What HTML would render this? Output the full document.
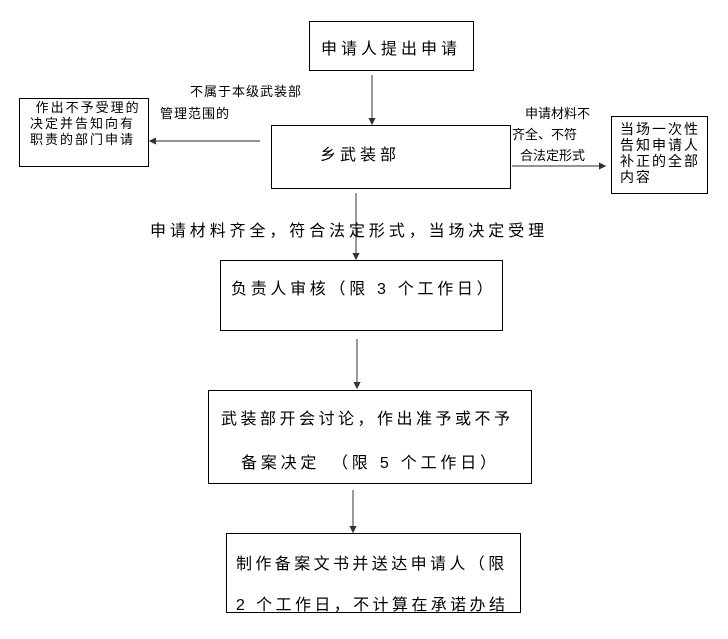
<!DOCTYPE html>
<html><head><meta charset="utf-8"><style>
body{margin:0;width:728px;height:639px;background:#fff;position:relative;font-family:"Liberation Sans","Noto Sans CJK SC",sans-serif;color:#000;overflow:hidden}
.b{position:absolute;border:1px solid #000;box-sizing:border-box}
.t{position:absolute;white-space:nowrap}
.s{font-size:13px;line-height:16px}
.m{font-size:16px}
</style></head><body>
<svg width="728" height="639" style="position:absolute;left:0;top:0">
<defs><marker id="a" markerWidth="6" markerHeight="6" refX="5" refY="3" orient="auto"><path d="M0,0L6,3L0,6z" fill="#333"/></marker></defs>
<g stroke="#555" stroke-width="1.2" marker-end="url(#a)">
<line x1="372" y1="75" x2="372" y2="124"/>
<line x1="260" y1="141" x2="150" y2="141"/>
<line x1="512" y1="166" x2="605" y2="166"/>
<line x1="356" y1="193" x2="356" y2="259"/>
<line x1="357" y1="339" x2="357" y2="388"/>
<line x1="353" y1="490" x2="353" y2="532"/>
</g></svg>
<div class="b" style="left:309px;top:21px;width:165px;height:50px"></div>
<div class="t m" style="left:321px;top:35px;letter-spacing:4px">申请人提出申请</div>
<div class="b" style="left:19px;top:98px;width:130px;height:69px"></div>
<div class="t s" style="left:30px;top:100px;letter-spacing:2px">&nbsp;作出不予受理的<br>决定并告知向有<br>职责的部门申请</div>
<div class="t s" style="left:190px;top:84px;letter-spacing:1px">不属于本级武装部</div>
<div class="t s" style="left:160px;top:106px;letter-spacing:1px">管理范围的</div>
<div class="b" style="left:271px;top:125px;width:240px;height:64px"></div>
<div class="t m" style="left:320px;top:141px;letter-spacing:4px">乡武装部</div>
<div class="t s" style="left:525px;top:106px">申请材料不</div>
<div class="t s" style="left:512px;top:127px">齐全、不符</div>
<div class="t s" style="left:520px;top:148px">合法定形式</div>
<div class="b" style="left:611px;top:116px;width:97px;height:78px"></div>
<div class="t s" style="left:620px;top:121px;font-size:14px;letter-spacing:2px">当场一次性<br>告知申请人<br>补正的全部<br>内容</div>
<div class="t m" style="left:150px;top:217px;letter-spacing:3.9px">申请材料齐全，符合法定形式，当场决定受理</div>
<div class="b" style="left:220px;top:260px;width:283px;height:71px"></div>
<div class="t m" style="left:231px;top:275px;letter-spacing:3.7px">负责人审核（限 3 个工作日）</div>
<div class="b" style="left:208px;top:390px;width:324px;height:94px"></div>
<div class="t m" style="left:221px;top:405px;letter-spacing:3.5px">武装部开会讨论，作出准予或不予</div>
<div class="t m" style="left:241px;top:449px;letter-spacing:3.8px">备案决定　（限 5 个工作日）</div>
<div class="b" style="left:226px;top:533px;width:295px;height:80px"></div>
<div class="t m" style="left:236px;top:550px;letter-spacing:3.4px">制作备案文书并送达申请人（限</div>
<div class="t m" style="left:236px;top:591px;letter-spacing:3.4px">2 个工作日，不计算在承诺办结</div>
</body></html>
